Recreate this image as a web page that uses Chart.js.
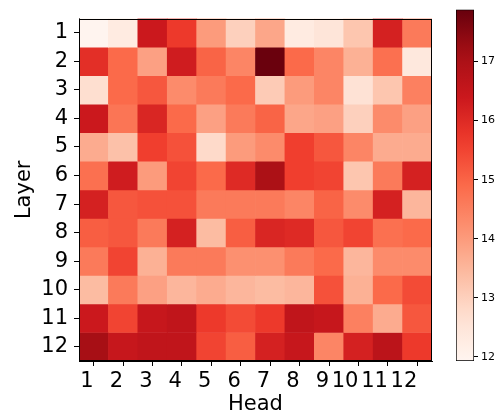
<!DOCTYPE html>
<html>
<head>
<meta charset="utf-8">
<script src="https://cdn.jsdelivr.net/npm/chart.js@4/dist/chart.umd.min.js"></script>
<style>
    html, body { margin: 0; padding: 0; background: #fff; }
    #wrap { position: relative; width: 503px; height: 417px; }
    #heat { position: absolute; left: 0; top: 0; }
    #cbar { position: absolute; left: 446px; top: 0; }
</style>
</head>
<body>
<div id="wrap">
    <canvas id="heat" width="440" height="417"></canvas>
    <canvas id="cbar" width="57" height="417"></canvas>
</div>
<script>
const heads = ['1', '2', '3', '4', '5', '6', '7', '8', '9', '10', '11', '12'];
const layers = ['1', '2', '3', '4', '5', '6', '7', '8', '9', '10', '11', '12'];

// one row per layer, one value per head
const layer1 = [11.95, 12.3, 16.4, 15.7, 14.0, 13.0, 13.8, 12.3, 12.5, 13.2, 16.2, 14.6];
const layer2 = [15.9, 14.9, 13.9, 16.3, 15.0, 14.4, 17.85, 14.9, 14.4, 13.6, 14.8, 12.4];
const layer3 = [12.7, 14.9, 15.2, 14.3, 14.6, 14.9, 13.1, 14.0, 14.4, 12.6, 13.2, 14.5];
const layer4 = [16.4, 14.7, 16.1, 14.9, 13.9, 14.6, 15.0, 13.8, 13.9, 13.0, 14.3, 13.9];
const layer5 = [13.7, 13.3, 15.6, 15.3, 12.8, 14.0, 14.3, 15.6, 15.2, 14.4, 13.7, 13.7];
const layer6 = [14.8, 16.3, 14.0, 15.5, 14.9, 16.0, 17.0, 15.6, 15.5, 13.2, 14.6, 16.2];
const layer7 = [16.2, 15.2, 15.3, 15.3, 14.6, 14.6, 14.6, 14.4, 15.0, 14.3, 16.2, 13.5];
const layer8 = [15.1, 15.2, 14.6, 16.2, 13.4, 15.1, 16.1, 16.0, 15.2, 15.5, 14.8, 14.9];
const layer9 = [14.6, 15.5, 13.6, 14.6, 14.6, 14.2, 14.2, 14.6, 14.9, 13.5, 14.3, 14.3];
const layer10 = [13.4, 14.6, 13.9, 13.5, 13.7, 13.5, 13.4, 13.5, 15.3, 13.6, 14.9, 15.4];
const layer11 = [16.4, 15.5, 16.5, 16.6, 15.7, 15.4, 15.7, 16.6, 16.5, 14.5, 13.7, 15.2];
const layer12 = [17.1, 16.5, 16.6, 16.6, 15.5, 15.1, 16.2, 16.5, 14.4, 16.2, 16.7, 15.7];
const scores = [layer1, layer2, layer3, layer4, layer5, layer6, layer7, layer8, layer9, layer10, layer11, layer12];

const vMin = 11.93;
const vMax = 17.88;
const cbarTicks = [12, 13, 14, 15, 16, 17];

// matplotlib "Reds"
const reds = [[255, 245, 240], [254, 224, 210], [252, 187, 161], [252, 146, 114], [251, 106, 74],
    [239, 59, 44], [203, 24, 29], [165, 15, 21], [103, 0, 13]];

function redsAt(t) {
    t = Math.max(0, Math.min(1, t));
    const p = t * (reds.length - 1);
    const i = Math.min(reds.length - 2, Math.floor(p));
    const f = p - i;
    const a = reds[i], b = reds[i + 1];
    return 'rgb(' + a.map((c, k) => Math.round(c + (b[k] - c) * f)).join(',') + ')';
}

function colorFor(v) {
    return redsAt((v - vMin) / (vMax - vMin));
}

const font = { family: 'DejaVu Sans', size: 21 };

// black frame round the plot area, like the matplotlib spines
const framePlugin = {
    id: 'frame',
    afterDraw(chart) {
        const { ctx, chartArea: a } = chart;
        ctx.save();
        ctx.strokeStyle = '#000';
        ctx.lineWidth = 1;
        ctx.strokeRect(Math.round(a.left) + 0.5, Math.round(a.top) + 0.5,
            Math.round(a.right - a.left) - 1, Math.round(a.bottom - a.top) - 1);
        ctx.restore();
    }
};

const heatData = {
    labels: heads,
    datasets: scores.map((row, r) => ({
        label: 'Layer ' + layers[r],
        data: row.map(() => [r + 0.5, r + 1.5]),
        backgroundColor: row.map(colorFor),
        borderWidth: 0,
        barPercentage: 1,
        categoryPercentage: 1,
        grouped: false
    }))
};

const heatChart = new Chart(document.getElementById('heat'), {
    type: 'bar',
    data: heatData,
    plugins: [framePlugin],
    options: {
        responsive: false,
        animation: false,
        devicePixelRatio: 1,
        layout: { padding: { top: 8, right: 8, left: 0, bottom: 0 } },
        plugins: { legend: { display: false }, tooltip: { enabled: false } },
        scales: {
            x: {
                type: 'category',
                offset: true,
                grid: { offset: false, drawOnChartArea: false, tickLength: 5, color: '#000' },
                border: { color: '#000' },
                ticks: { color: '#000', font: font, align: 'end', padding: 3, maxRotation: 0, autoSkip: false },
                title: { display: true, text: 'Head', color: '#000', font: font, padding: { top: 0, bottom: 0 } },
                afterFit: (s) => { s.height = 56; }
            },
            y: {
                type: 'linear',
                min: 0.5,
                max: 12.5,
                reverse: true,
                afterBuildTicks: (s) => { s.ticks = layers.map((l, i) => ({ value: i + 1 })); },
                grid: { drawOnChartArea: false, tickLength: 5, color: '#000' },
                border: { color: '#000' },
                ticks: { color: '#000', font: font, padding: 6, callback: (v, i) => layers[i] },
                title: { display: true, text: 'Layer', color: '#000', font: font, padding: { top: 12, bottom: 0 } },
                afterFit: (s) => { s.width = 79; }
            }
        }
    }
});

// colour bar: one floating bar from vMin to vMax filled with the colormap
const cbarChart = new Chart(document.getElementById('cbar'), {
    type: 'bar',
    data: {
        labels: [''],
        datasets: [{
            data: [[vMin, vMax]],
            backgroundColor: (ctx) => {
                const area = ctx.chart.chartArea;
                if (!area) return reds[4];
                const g = ctx.chart.ctx.createLinearGradient(0, area.bottom, 0, area.top);
                for (let k = 0; k <= 20; k++) g.addColorStop(k / 20, redsAt(k / 20));
                return g;
            },
            borderColor: '#000',
            borderWidth: 1,
            borderSkipped: false,
            barPercentage: 1,
            categoryPercentage: 1
        }]
    },
    options: {
        responsive: false,
        animation: false,
        devicePixelRatio: 1,
        layout: { padding: { top: 8, bottom: 56, left: 10, right: 0 } },
        plugins: { legend: { display: false }, tooltip: { enabled: false } },
        scales: {
            x: { display: false },
            y: {
                position: 'right',
                min: vMin,
                max: vMax,
                afterBuildTicks: (s) => { s.ticks = cbarTicks.map(v => ({ value: v })); },
                grid: { drawOnChartArea: false, tickLength: 4, color: '#000' },
                border: { display: false },
                ticks: { color: '#000', font: { family: 'DejaVu Sans', size: 11 }, padding: 3 },
                afterFit: (s) => { s.width = 29; }
            }
        }
    }
});
</script>
</body>
</html>
